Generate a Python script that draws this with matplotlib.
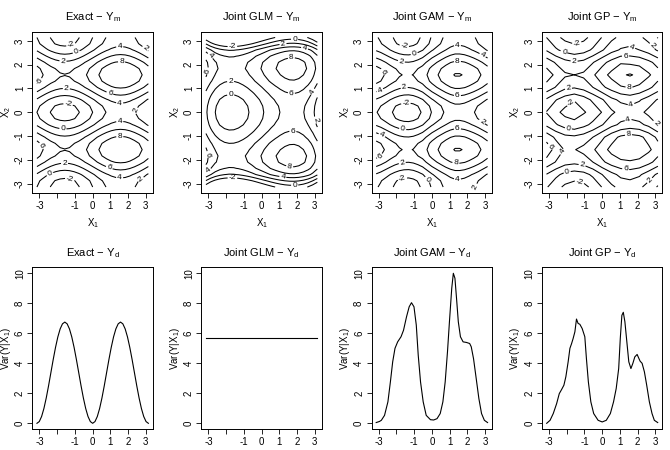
import numpy as np
import matplotlib.pyplot as plt

plt.rcParams['font.family'] = 'Liberation Sans'
plt.rcParams['mathtext.fontset'] = 'custom'
plt.rcParams['mathtext.rm'] = 'Liberation Sans'
plt.rcParams['mathtext.it'] = 'Liberation Sans:italic'

PI = np.pi

# ---- mean part Ym ----
# X1 / X2 nodes of the surfaces
grid25 = np.linspace(-PI, PI, 25)
grid13 = np.linspace(-PI, PI, 13)

# additive effects (value at each grid25 node)
exact_m_x1 = [0.0, -0.76, -1.47, -2.08, -2.55, -2.85, -2.95, -2.85, -2.55, -2.08, -1.47, -0.76, 0.0,
              0.76, 1.47, 2.08, 2.55, 2.85, 2.95, 2.85, 2.55, 2.08, 1.47, 0.76, 0.0]
exact_m_x2 = [0.0, 0.47, 1.75, 3.5, 5.25, 6.53, 7.0, 6.53, 5.25, 3.5, 1.75, 0.47, 0.0,
              0.47, 1.75, 3.5, 5.25, 6.53, 7.0, 6.53, 5.25, 3.5, 1.75, 0.47, 0.0]

glm_m_x1 = [0.58, -0.72, -1.69, -2.36, -2.77, -2.94, -2.91, -2.70, -2.33, -1.85, -1.29, -0.66, 0.0,
            0.66, 1.29, 1.85, 2.33, 2.70, 2.91, 2.94, 2.77, 2.36, 1.69, 0.72, -0.58]
glm_m_x2 = [-3.8, -0.7, 2.8, 4.8, 5.85, 6.1, 5.65, 4.95, 3.95, 3.05, 2.3, 1.85, 1.7,
            1.85, 2.3, 3.05, 3.95, 4.95, 5.65, 6.1, 5.85, 4.8, 2.8, -0.7, -3.8]

gam_m_x1 = [0.0, -0.5, -1.15, -1.8, -2.4, -2.85, -3.1, -3.15, -2.95, -2.5, -1.9, -0.95, 0.0,
            0.75, 1.5, 2.2, 2.75, 3.1, 3.1, 2.9, 2.5, 2.0, 1.4, 0.7, 0.0]
gam_m_x2 = [0.2, 0.6, 1.8, 3.5, 5.2, 6.5, 7.0, 6.5, 5.2, 3.5, 1.8, 0.5, 0.1,
            0.5, 1.8, 3.5, 5.2, 6.5, 7.0, 6.5, 5.2, 3.5, 1.8, 0.6, 0.2]

# GP surface on grid13: rows = X2 (bottom to top), cols = X1
gp_m = [
    [0.2, -1.3, -2.4, -2.9, -2.6, -1.5, 0.1, 1.6, 2.6, 2.9, 2.4, 1.2, -0.2],
    [1.9, 0.5, -0.6, -1.0, -0.7, 0.4, 2.0, 3.4, 4.5, 4.8, 4.3, 3.0, 1.6],
    [5.4, 3.9, 2.8, 2.5, 2.9, 4.0, 5.6, 6.9, 7.6, 7.8, 7.5, 6.6, 5.2],
    [7.1, 5.3, 3.8, 3.9, 4.6, 5.7, 7.2, 8.6, 9.5, 9.6, 9.4, 8.4, 7.0],
    [5.3, 3.6, 2.6, 2.4, 2.9, 4.0, 5.6, 7.2, 8.4, 8.9, 8.5, 7.3, 5.5],
    [1.6, 0.2, -0.9, -1.4, -0.6, 0.5, 1.9, 3.4, 4.4, 4.8, 4.5, 3.5, 1.9],
    [-0.1, -1.5, -2.6, -2.9, -2.2, -1.3, 0.1, 1.6, 2.7, 3.0, 2.6, 1.4, 0.1],
    [1.7, 0.1, -1.1, -1.9, -1.0, 0.4, 1.8, 3.5, 4.4, 4.8, 4.2, 3.1, 1.8],
    [5.3, 3.9, 2.5, 2.2, 2.8, 4.0, 5.6, 6.8, 7.8, 8.1, 7.6, 6.5, 5.1],
    [7.0, 5.6, 4.3, 4.0, 4.4, 5.7, 7.2, 8.6, 9.7, 10.2, 9.5, 8.3, 6.9],
    [5.2, 3.8, 2.7, 2.2, 2.6, 3.9, 5.4, 6.7, 7.8, 7.6, 7.4, 6.5, 5.3],
    [1.8, 0.3, -0.7, -1.2, -0.8, 0.3, 1.8, 3.3, 4.2, 4.5, 4.0, 3.1, 1.7],
    [0.0, -1.5, -2.5, -2.9, -2.5, -1.4, 0.1, 1.5, 2.5, 2.8, 2.4, 1.3, -0.1],
]

levels = [-2, 0, 2, 4, 6, 8, 10]

# ---- dispersion part Yd = Var(Y|X1) ----
exact_d_x = np.linspace(-PI, PI, 49)
exact_d = [0.0, 0.115, 0.452, 0.988, 1.687, 2.5, 3.374, 4.247, 5.06, 5.759, 6.295, 6.632, 6.747,
           6.632, 6.295, 5.759, 5.06, 4.247, 3.374, 2.5, 1.687, 0.988, 0.452, 0.115, 0.0,
           0.115, 0.452, 0.988, 1.687, 2.5, 3.374, 4.247, 5.06, 5.759, 6.295, 6.632, 6.747,
           6.632, 6.295, 5.759, 5.06, 4.247, 3.374, 2.5, 1.687, 0.988, 0.452, 0.115, 0.0]

glm_d_x = [-PI, PI]
glm_d = [5.72, 5.72]

gam_d_x = [-3.14, -2.96, -2.85, -2.67, -2.48, -2.34, -2.21, -2.08, -1.93, -1.74,
           -1.60, -1.43, -1.28, -1.15, -1.01, -0.88, -0.77, -0.64, -0.49, -0.32,
           -0.08, 0.10, 0.29, 0.47, 0.62, 0.75, 0.88, 0.99, 1.12, 1.21,
           1.30, 1.39, 1.49, 1.61, 1.76, 1.95, 2.13, 2.22, 2.35, 2.50,
           2.65, 2.80, 2.96, 3.14]
gam_d = [0.05, 0.12, 0.2, 0.53, 1.43, 2.76, 4.1, 5.0, 5.43, 5.77,
         6.2, 7.1, 7.77, 8.04, 7.77, 6.55, 4.54, 2.76, 1.43, 0.53,
         0.24, 0.22, 0.31, 0.65, 1.43, 2.76, 4.77, 6.77, 9.0, 10.0,
         9.67, 8.33, 6.77, 5.77, 5.43, 5.39, 5.32, 5.1, 4.3, 2.98,
         1.65, 0.65, 0.2, 0.05]

gp_d_x = [-3.13, -2.94, -2.76, -2.57, -2.42, -2.29, -2.16, -2.05, -1.92, -1.82,
          -1.73, -1.64, -1.54, -1.45, -1.36, -1.26, -1.13, -0.98, -0.89, -0.78,
          -0.64, -0.48, -0.23, 0.0, 0.23, 0.46, 0.64, 0.79, 0.93, 1.02,
          1.11, 1.19, 1.28, 1.39, 1.50, 1.62, 1.73, 1.84, 1.97, 2.07,
          2.14, 2.25, 2.38, 2.51, 2.66, 2.81, 2.94, 3.13]
gp_d = [0.0, 0.2, 0.65, 1.31, 1.98, 2.25, 2.54, 3.1, 4.1, 5.0,
        5.3, 5.65, 6.1, 6.95, 6.66, 6.6, 6.32, 5.77, 4.32, 2.76,
        1.43, 0.65, 0.2, 0.09, 0.2, 0.65, 1.43, 2.32, 3.65, 5.66,
        7.2, 7.4, 6.77, 5.43, 4.1, 3.65, 4.0, 4.43, 4.59, 4.32,
        4.14, 4.0, 3.43, 2.54, 1.43, 0.65, 0.2, 0.05]

# where the contour labels sit in each panel (x1, x2)
exact_lab = [(-1.21, 2.79), (-0.92, 2.51), (1.53, 2.72), (2.94, 2.65), (-1.68, 2.10), (1.62, 2.03),
             (-3.0, 1.33), (-1.49, 0.95), (0.96, 0.78), (1.53, 0.43), (-1.40, 0.22), (2.47, 0.05),
             (-1.68, -0.72), (1.53, -0.40), (1.53, -1.03), (-3.0, -1.44), (-1.58, -2.21), (0.96, -2.28),
             (-2.43, -2.56), (-1.30, -2.83), (1.53, -2.69), (2.66, -2.76)]
glm_lab = [(-1.65, 2.79), (1.2, 2.89), (1.86, 3.07), (2.43, 2.72), (1.67, 2.38), (-2.88, 2.38),
           (-3.1, 1.75), (-1.75, 1.33), (-1.75, 0.71), (1.67, 0.71), (2.9, 0.85), (3.0, -0.33),
           (1.76, -0.75), (-3.1, -1.79), (1.57, -2.42), (-2.98, -2.49), (-1.65, -2.9), (1.2, -2.69),
           (1.86, -3.04)]
gam_lab = [(-1.56, 2.79), (-0.99, 2.44), (1.44, 2.72), (2.85, 2.38), (-1.74, 2.07), (1.44, 2.07),
           (-2.96, 1.61), (-2.93, 0.92), (-1.56, 0.99), (1.44, 0.71), (-1.46, 0.29), (2.76, -0.47),
           (-1.65, -0.72), (1.44, -0.75), (-2.87, -1.03), (-2.96, -1.79), (1.35, -2.14), (-1.65, -2.21),
           (-1.65, -2.83), (-0.34, -2.9), (1.44, -2.76), (2.2, -3.04)]
gp_lab = [(-1.42, 2.86), (-2.17, 2.51), (1.7, 2.79), (2.92, 2.86), (-1.6, 2.07), (1.32, 2.24),
          (1.51, 1.03), (-1.89, 0.92), (1.6, 0.36), (-1.7, 0.33), (-1.89, -0.61), (1.51, -0.44),
          (2.92, -0.54), (1.51, -1.06), (-3.05, -1.51), (-1.98, -1.79), (-1.13, -2.2), (1.32, -2.42),
          (-1.98, -2.49), (-1.23, -2.76), (2.83, -2.97)]


def style(ax, yticks, ylabels):
    lim = 1.08 * PI
    ax.set_xlim(-lim, lim)
    ax.set_xticks([-3, -2, -1, 0, 1, 2, 3])
    ax.set_xticklabels(['-3', '', '-1', '0', '1', '2', '3'])
    ax.set_yticks(yticks)
    ax.set_yticklabels(ylabels, rotation=90, va='center')
    ax.tick_params(length=3.5, width=0.6, labelsize=7, pad=2, direction='out')
    for s in ax.spines.values():
        s.set_linewidth(0.7)


fig = plt.figure(figsize=(6.7, 4.5), dpi=100)
lefts = [0.0485, 0.3007, 0.5548, 0.809]
W = 0.1796

surfaces = [
    ('Exact', np.add.outer(exact_m_x2, exact_m_x1), grid25, exact_lab),
    ('Joint GLM', np.add.outer(glm_m_x2, glm_m_x1), grid25, glm_lab),
    ('Joint GAM', np.add.outer(gam_m_x2, gam_m_x1), grid25, gam_lab),
    ('Joint GP', np.array(gp_m), grid13, gp_lab),
]
for left, (name, z, g, lab) in zip(lefts, surfaces):
    ax = fig.add_axes([left, 0.5711, W, 0.3589])
    cs = ax.contour(g, g, z, levels=levels, colors='black', linewidths=0.75,
                    linestyles='solid')
    ax.clabel(cs, manual=lab, inline=True, fontsize=6, fmt='%d', inline_spacing=1.5)
    lim = 1.08 * PI
    ax.set_ylim(-lim, lim)
    style(ax, [-3, -2, -1, 0, 1, 2, 3], ['-3', '-2', '-1', '0', '1', '2', '3'])
    ax.set_title(name + ' \u2212 $\\mathregular{Y_m}$', fontsize=8, pad=8)
    ax.set_xlabel('$\\mathregular{X_1}$', fontsize=7, labelpad=4)
    ax.set_ylabel('$\\mathregular{X_2}$', fontsize=7, labelpad=1.5)

curves = [
    ('Exact', exact_d_x, exact_d),
    ('Joint GLM', glm_d_x, glm_d),
    ('Joint GAM', gam_d_x, gam_d),
    ('Joint GP', gp_d_x, gp_d),
]
for left, (name, x, y) in zip(lefts, curves):
    ax = fig.add_axes([left, 0.046, W, 0.36])
    ax.plot(x, y, color='black', lw=0.8)
    ax.set_ylim(-0.4, 10.4)
    style(ax, [0, 2, 4, 6, 8, 10], ['0', '2', '4', '6', '8', '10'])
    ax.set_title(name + ' \u2212 $\\mathregular{Y_d}$', fontsize=8, pad=8)
    ax.set_ylabel('$\\mathregular{Var(Y|X_1)}$', fontsize=7, labelpad=1.5)

fig.savefig('out.png', dpi=100)
